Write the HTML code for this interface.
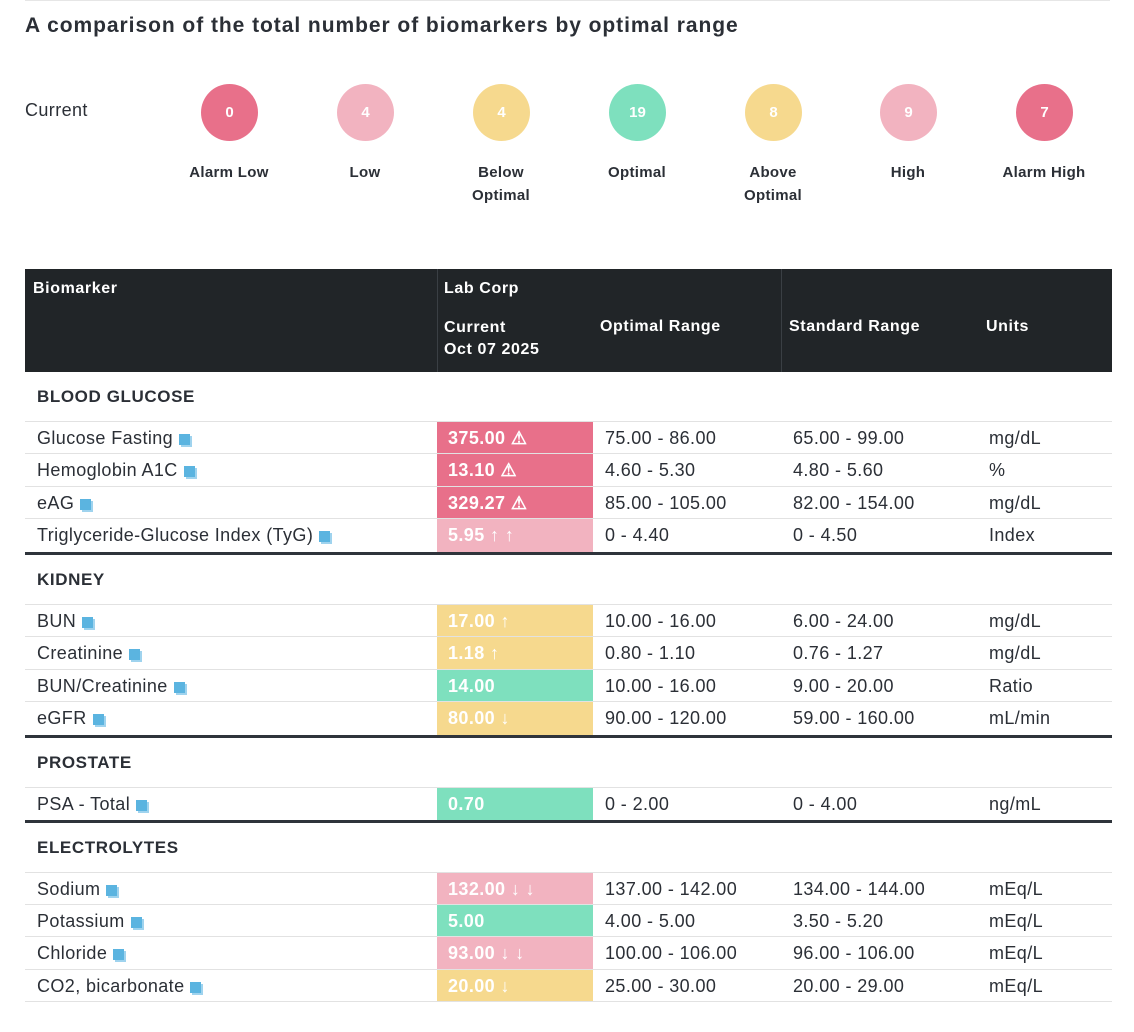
<!DOCTYPE html>
<html><head><meta charset="utf-8"><style>
*{margin:0;padding:0;box-sizing:border-box}
body{width:1134px;height:1032px;background:#fff;font-family:"Liberation Sans",sans-serif;color:#2b2f36;position:relative;overflow:hidden}
.abs{position:absolute}
h1{position:absolute;left:25px;top:14px;font-size:21px;font-weight:bold;color:#2b2f36;letter-spacing:0.95px;white-space:nowrap}
.circ{position:absolute;width:57px;height:57px;border-radius:50%;color:#fff;font-weight:bold;font-size:15px;text-align:center;line-height:57px}
.lab{position:absolute;width:130px;text-align:center;font-weight:bold;font-size:15px;letter-spacing:0.3px;line-height:23px;color:#2b2f36}
.hd{position:absolute;left:25px;top:269px;width:1087px;height:103px;background:#212528}
.ht{position:absolute;color:#fff;font-weight:bold;font-size:16px;letter-spacing:0.6px}
.row{position:absolute;left:25px;width:1087px;border-bottom:1.5px solid #e2e2e2;font-size:18px;letter-spacing:0.4px;color:#2b2f36}
.row span{position:absolute;top:6px;white-space:nowrap}
.val{position:absolute;left:412px;top:0;width:156px;height:100%;color:#fff;font-weight:bold;padding-left:11px;padding-top:6px}
.sec{position:absolute;left:37px;font-weight:bold;font-size:17px;letter-spacing:0.6px;color:#2b2f36}
.thick{position:absolute;left:25px;width:1087px;height:3px;background:#2f343b}
.ic{display:inline-block;width:11px;height:11px;background:#5bb4e0;margin-left:6px;vertical-align:-1px;box-shadow:2px 2px 0 #9fd3ee}
.A{background:#e8708a}.L{background:#f2b3c0}.Y{background:#f6d98e}.G{background:#7ee0be}
</style></head><body>
<div class="abs" style="left:25px;top:0;width:1085px;height:1px;background:#e6e6e6"></div>
<h1>A comparison of the total number of biomarkers by optimal range</h1>
<div class="abs" style="left:25px;top:100px;font-size:18px;letter-spacing:0.4px">Current</div>
<div class="circ A" style="left:201px;top:84px">0</div>
<div class="circ L" style="left:337px;top:84px">4</div>
<div class="circ Y" style="left:473px;top:84px">4</div>
<div class="circ G" style="left:609px;top:84px">19</div>
<div class="circ Y" style="left:745px;top:84px">8</div>
<div class="circ L" style="left:880px;top:84px">9</div>
<div class="circ A" style="left:1016px;top:84px">7</div>
<div class="lab" style="left:164px;top:161px">Alarm Low</div>
<div class="lab" style="left:300px;top:161px">Low</div>
<div class="lab" style="left:436px;top:161px">Below<br>Optimal</div>
<div class="lab" style="left:572px;top:161px">Optimal</div>
<div class="lab" style="left:708px;top:161px">Above<br>Optimal</div>
<div class="lab" style="left:843px;top:161px">High</div>
<div class="lab" style="left:979px;top:161px">Alarm High</div>

<div class="hd"></div>
<div class="abs" style="left:437px;top:269px;width:1px;height:103px;background:#3a3f44"></div>
<div class="abs" style="left:781px;top:269px;width:1px;height:103px;background:#3a3f44"></div>
<div class="ht" style="left:33px;top:280px">Biomarker</div>
<div class="ht" style="left:444px;top:280px">Lab Corp</div>
<div class="ht" style="left:444px;top:317px;line-height:22px">Current<br>Oct 07 2025</div>
<div class="ht" style="left:600px;top:318px">Optimal Range</div>
<div class="ht" style="left:789px;top:318px">Standard Range</div>
<div class="ht" style="left:986px;top:318px">Units</div>

<div class="sec" style="top:387px">BLOOD GLUCOSE</div>
<div class="row" style="top:421px;height:33px;border-top:1.5px solid #e2e2e2"><span style="left:12px">Glucose Fasting<i class="ic"></i></span><div class="val A">375.00 ⚠</div><span style="left:580px">75.00 - 86.00</span><span style="left:768px">65.00 - 99.00</span><span style="left:964px">mg/dL</span></div>
<div class="row" style="top:454px;height:33px"><span style="left:12px">Hemoglobin A1C<i class="ic"></i></span><div class="val A">13.10 ⚠</div><span style="left:580px">4.60 - 5.30</span><span style="left:768px">4.80 - 5.60</span><span style="left:964px">%</span></div>
<div class="row" style="top:487px;height:32px"><span style="left:12px">eAG<i class="ic"></i></span><div class="val A">329.27 ⚠</div><span style="left:580px">85.00 - 105.00</span><span style="left:768px">82.00 - 154.00</span><span style="left:964px">mg/dL</span></div>
<div class="row" style="top:519px;height:33px;border:none"><span style="left:12px">Triglyceride-Glucose Index (TyG)<i class="ic"></i></span><div class="val L">5.95 ↑ ↑</div><span style="left:580px">0 - 4.40</span><span style="left:768px">0 - 4.50</span><span style="left:964px">Index</span></div>
<div class="thick" style="top:552px"></div>

<div class="sec" style="top:570px">KIDNEY</div>
<div class="row" style="top:604px;height:33px;border-top:1.5px solid #e2e2e2"><span style="left:12px">BUN<i class="ic"></i></span><div class="val Y">17.00 ↑</div><span style="left:580px">10.00 - 16.00</span><span style="left:768px">6.00 - 24.00</span><span style="left:964px">mg/dL</span></div>
<div class="row" style="top:637px;height:33px"><span style="left:12px">Creatinine<i class="ic"></i></span><div class="val Y">1.18 ↑</div><span style="left:580px">0.80 - 1.10</span><span style="left:768px">0.76 - 1.27</span><span style="left:964px">mg/dL</span></div>
<div class="row" style="top:670px;height:32px"><span style="left:12px">BUN/Creatinine<i class="ic"></i></span><div class="val G">14.00</div><span style="left:580px">10.00 - 16.00</span><span style="left:768px">9.00 - 20.00</span><span style="left:964px">Ratio</span></div>
<div class="row" style="top:702px;height:33px;border:none"><span style="left:12px">eGFR<i class="ic"></i></span><div class="val Y">80.00 ↓</div><span style="left:580px">90.00 - 120.00</span><span style="left:768px">59.00 - 160.00</span><span style="left:964px">mL/min</span></div>
<div class="thick" style="top:735px"></div>

<div class="sec" style="top:753px">PROSTATE</div>
<div class="row" style="top:787px;height:33px;border-top:1.5px solid #e2e2e2;border-bottom:none"><span style="left:12px">PSA - Total<i class="ic"></i></span><div class="val G">0.70</div><span style="left:580px">0 - 2.00</span><span style="left:768px">0 - 4.00</span><span style="left:964px">ng/mL</span></div>
<div class="thick" style="top:820px"></div>

<div class="sec" style="top:838px">ELECTROLYTES</div>
<div class="row" style="top:872px;height:33px;border-top:1.5px solid #e2e2e2"><span style="left:12px">Sodium<i class="ic"></i></span><div class="val L">132.00 ↓ ↓</div><span style="left:580px">137.00 - 142.00</span><span style="left:768px">134.00 - 144.00</span><span style="left:964px">mEq/L</span></div>
<div class="row" style="top:905px;height:32px"><span style="left:12px">Potassium<i class="ic"></i></span><div class="val G">5.00</div><span style="left:580px">4.00 - 5.00</span><span style="left:768px">3.50 - 5.20</span><span style="left:964px">mEq/L</span></div>
<div class="row" style="top:937px;height:33px"><span style="left:12px">Chloride<i class="ic"></i></span><div class="val L">93.00 ↓ ↓</div><span style="left:580px">100.00 - 106.00</span><span style="left:768px">96.00 - 106.00</span><span style="left:964px">mEq/L</span></div>
<div class="row" style="top:970px;height:32px"><span style="left:12px">CO2, bicarbonate<i class="ic"></i></span><div class="val Y">20.00 ↓</div><span style="left:580px">25.00 - 30.00</span><span style="left:768px">20.00 - 29.00</span><span style="left:964px">mEq/L</span></div>
</body></html>
